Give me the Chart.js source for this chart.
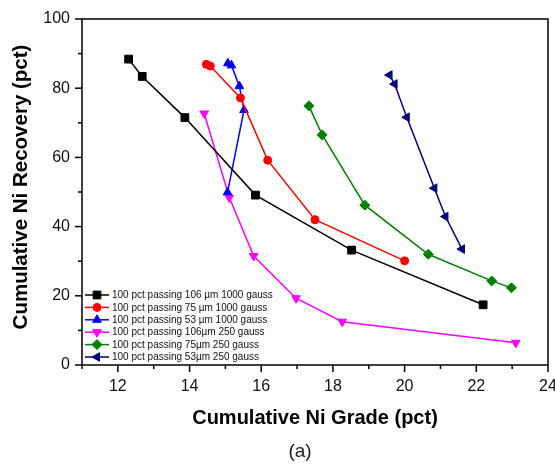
<!DOCTYPE html>
<html>
<head>
<meta charset="utf-8">
<script src="https://cdn.jsdelivr.net/npm/chart.js@4/dist/chart.umd.min.js"></script>
<style>
  html, body { margin: 0; padding: 0; background: #fff; }
  #wrap { width: 555px; height: 466px; }
</style>
</head>
<body>
<div id="wrap"><canvas id="recoveryChart" width="555" height="466"></canvas></div>
<script>
// cumulative Ni grade (x) and recovery (y), one pair of arrays per test
var grade106_1000 = [12.30, 12.68, 13.87, 15.84, 18.52, 22.19];
var recov106_1000 = [88.4, 83.4, 71.5, 49.1, 33.2, 17.4];

var grade75_1000 = [14.47, 14.58, 15.42, 16.18, 17.50, 20.00];
var recov75_1000 = [86.9, 86.4, 77.2, 59.2, 42.0, 30.1];

var grade53_1000 = [15.07, 15.17, 15.39, 15.52, 15.06];
var recov53_1000 = [87.2, 86.6, 80.6, 73.7, 49.9];

var grade106_250 = [14.41, 15.11, 15.79, 16.97, 18.26, 23.10];
var recov106_250 = [72.7, 48.4, 31.5, 19.3, 12.5, 6.4];

var grade75_250 = [17.33, 17.70, 18.89, 20.66, 22.43, 22.98];
var recov75_250 = [74.9, 66.5, 46.2, 32.0, 24.3, 22.3];

var grade53_250 = [19.58, 19.72, 20.06, 20.83, 21.14, 21.60];
var recov53_250 = [83.8, 81.2, 71.6, 51.1, 42.9, 33.5];

var seriesLabels = [
  '100 pct passing 106 \u00b5m 1000 gauss',
  '100 pct passing 75 \u00b5m 1000 gauss',
  '100 pct passing 53 \u00b5m 1000 gauss',
  '100 pct passing 106\u00b5m 250 gauss',
  '100 pct passing 75\u00b5m 250 gauss',
  '100 pct passing 53\u00b5m 250 gauss'
];

var xTicks = [12, 14, 16, 18, 20, 22, 24];
var yTicks = [0, 20, 40, 60, 80, 100];

var FONT = 'Arial, "Liberation Sans", sans-serif';

function pairs(xs, ys) {
  return xs.map(function (x, i) { return { x: x, y: ys[i] }; });
}

function series(label, xs, ys, color, style, rotation, radius) {
  return {
    label: label,
    data: pairs(xs, ys),
    borderColor: color,
    backgroundColor: color,
    borderWidth: 1.5,
    pointStyle: style,
    rotation: rotation,
    pointRadius: radius,
    pointHoverRadius: radius,
    pointBorderWidth: 1,
    tension: 0
  };
}

var datasets = [
  series(seriesLabels[0], grade106_1000, recov106_1000, '#000000', 'rect', 0, 5.5),
  series(seriesLabels[1], grade75_1000, recov75_1000, '#ff0000', 'circle', 0, 4),
  series(seriesLabels[2], grade53_1000, recov53_1000, '#0000ff', 'triangle', 0, 5),
  series(seriesLabels[3], grade106_250, recov106_250, '#ff00ff', 'triangle', 180, 5),
  series(seriesLabels[4], grade75_250, recov75_250, '#007f00', 'rectRot', 0, 5),
  series(seriesLabels[5], grade53_250, recov53_250, '#00007f', 'triangle', -90, 5)
];

// plot frame and outward tick marks (long at labelled values, short between)
var frameAndTicks = {
  id: 'frameAndTicks',
  beforeDatasetsDraw: function (chart) {
    var ctx = chart.ctx, a = chart.chartArea;
    var xs = chart.scales.x, ys = chart.scales.y;
    ctx.save();
    ctx.strokeStyle = '#000';
    ctx.lineWidth = 1.5;
    ctx.strokeRect(a.left, a.top, a.right - a.left, a.bottom - a.top);
    xs.ticks.forEach(function (t) {
      var px = xs.getPixelForValue(t.value);
      var len = xTicks.indexOf(t.value) >= 0 ? 7 : 4;
      ctx.beginPath();
      ctx.moveTo(px, a.bottom);
      ctx.lineTo(px, a.bottom + len);
      ctx.stroke();
    });
    ys.ticks.forEach(function (t) {
      var py = ys.getPixelForValue(t.value);
      var len = yTicks.indexOf(t.value) >= 0 ? 7 : 4;
      ctx.beginPath();
      ctx.moveTo(a.left, py);
      ctx.lineTo(a.left - len, py);
      ctx.stroke();
    });
    ctx.restore();
  }
};

// legend boxed into the lower left corner of the plot, y title and panel tag
var innerLegend = {
  id: 'innerLegend',
  afterDraw: function (chart) {
    var ctx = chart.ctx, a = chart.chartArea;
    var x0 = a.left + 3, y0 = a.bottom - 70, rowH = 12.4;
    ctx.save();
    chart.data.datasets.forEach(function (ds, i) {
      var y = y0 + i * rowH;
      ctx.strokeStyle = ds.borderColor;
      ctx.fillStyle = ds.backgroundColor;
      ctx.lineWidth = 1.5;
      ctx.beginPath();
      ctx.moveTo(x0, y);
      ctx.lineTo(x0 + 24, y);
      ctx.stroke();
      ctx.lineWidth = 1;
      Chart.helpers.drawPoint(ctx, {
        pointStyle: ds.pointStyle,
        rotation: ds.rotation,
        radius: ds.pointRadius,
        borderWidth: 1
      }, x0 + 12, y);
      ctx.fillStyle = '#111';
      ctx.font = '10px ' + FONT;
      ctx.textAlign = 'left';
      ctx.textBaseline = 'middle';
      ctx.fillText(ds.label, x0 + 27, y + 0.5);
    });

    ctx.fillStyle = '#000';
    ctx.font = 'bold 20.5px ' + FONT;
    ctx.textAlign = 'center';
    ctx.textBaseline = 'middle';
    ctx.translate(21, (a.top + a.bottom) / 2 - 5);
    ctx.rotate(-Math.PI / 2);
    ctx.fillText('Cumulative Ni Recovery (pct)', 0, 0);
    ctx.setTransform(1, 0, 0, 1, 0, 0);

    ctx.fillStyle = '#222';
    ctx.font = '19px ' + FONT;
    ctx.fillText('(a)', 300, 452);
    ctx.restore();
  }
};

new Chart(document.getElementById('recoveryChart'), {
  type: 'line',
  data: { datasets: datasets },
  options: {
    responsive: false,
    animation: false,
    layout: { padding: { left: 0, top: 19, right: 7, bottom: 0 } },
    plugins: {
      legend: { display: false },
      tooltip: { enabled: false }
    },
    scales: {
      x: {
        type: 'linear',
        min: 11,
        max: 24,
        grid: { display: false, drawTicks: false },
        border: { display: false },
        ticks: {
          stepSize: 1,
          autoSkip: false,
          maxRotation: 0,
          padding: 12,
          color: '#111',
          font: { family: FONT, size: 16 },
          callback: function (v) { return xTicks.indexOf(v) >= 0 ? String(v) : ''; }
        },
        title: {
          display: true,
          text: 'Cumulative Ni Grade (pct)',
          color: '#000',
          font: { family: FONT, size: 20, weight: 'bold' },
          padding: { top: 0, bottom: 36 }
        },
        afterFit: function (s) { s.height = 101; s.paddingLeft = 0; s.paddingRight = 0; }
      },
      y: {
        min: 0,
        max: 100,
        grid: { display: false, drawTicks: false },
        border: { display: false },
        ticks: {
          stepSize: 10,
          autoSkip: false,
          padding: 12,
          color: '#111',
          font: { family: FONT, size: 16 },
          callback: function (v) { return yTicks.indexOf(v) >= 0 ? String(v) : ''; }
        },
        afterFit: function (s) { s.width = 82; s.paddingTop = 0; s.paddingBottom = 0; }
      }
    }
  },
  plugins: [frameAndTicks, innerLegend]
});
</script>
</body>
</html>
